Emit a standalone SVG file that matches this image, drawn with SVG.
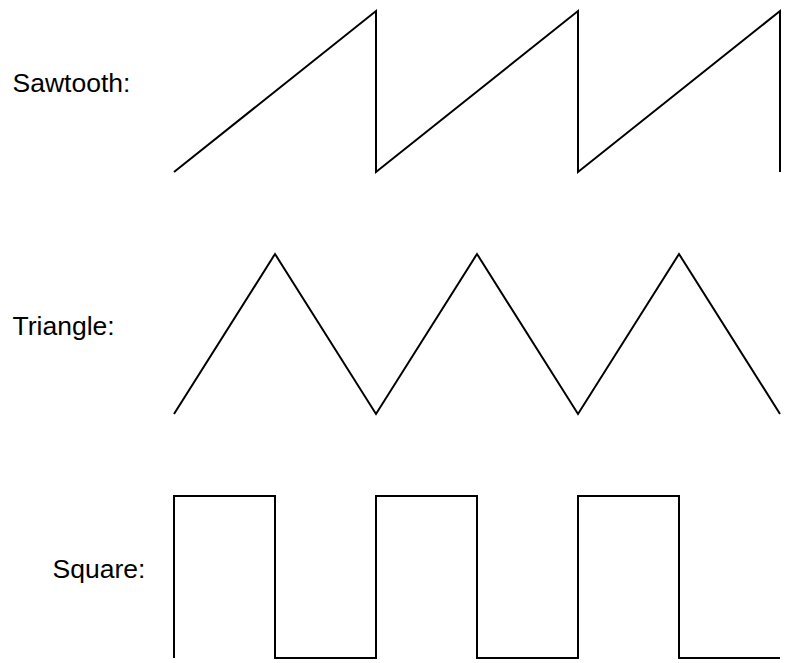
<svg xmlns="http://www.w3.org/2000/svg" width="785" height="663" viewBox="0 0 785 663">
<style>
.lbl{font-family:"Liberation Sans",Arial,sans-serif;font-size:26.5px;fill:#000}
.wave{fill:none;stroke:#000;stroke-width:2;stroke-linejoin:miter}
</style>
<rect width="785" height="663" fill="#fff"/>
<g id="sawtooth">
<text class="lbl" x="12.5" y="91.5">Sawtooth:</text>
<polyline class="wave" points="174,172 376,11 376,172 578,11 578,172 780,11 780,172"/>
</g>
<g id="triangle">
<text class="lbl" x="12.5" y="334.8">Triangle:</text>
<polyline class="wave" points="174,414 275,254 376,414 477,254 578,414 679,254 780,414"/>
</g>
<g id="square">
<text class="lbl" x="52.5" y="577.5">Square:</text>
<polyline class="wave" points="174,658 174,496 275,496 275,658 376,658 376,496 477,496 477,658 578,658 578,496 679,496 679,658 780,658"/>
</g>
</svg>
